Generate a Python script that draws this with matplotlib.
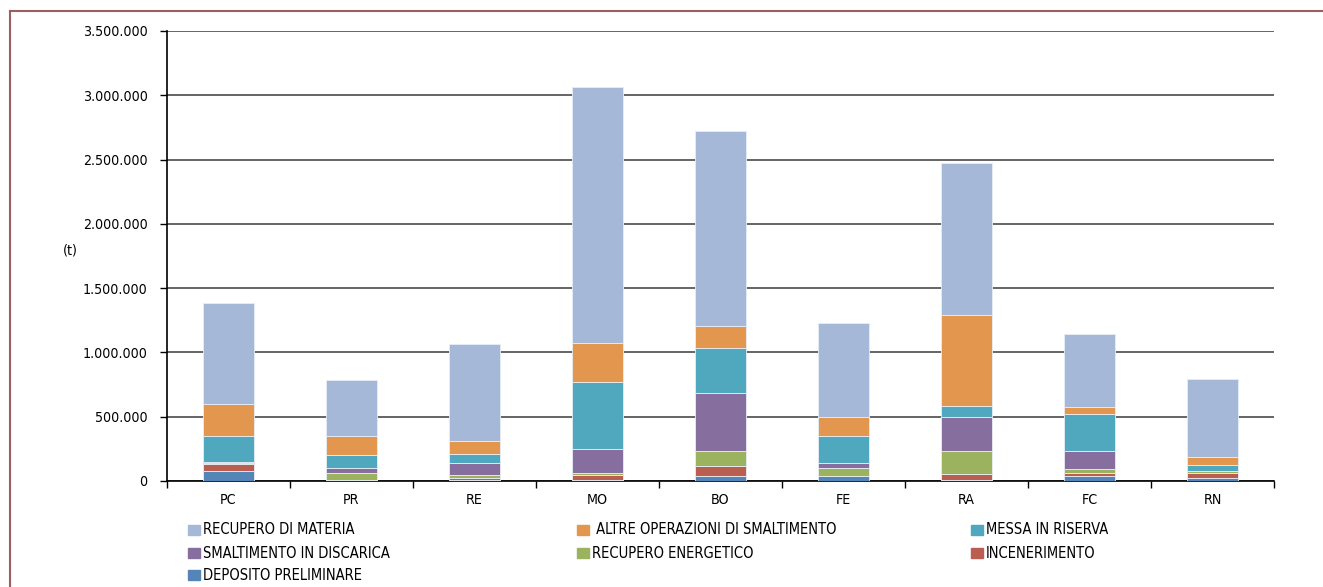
import matplotlib
matplotlib.use("Agg")
import matplotlib.pyplot as plt
from matplotlib.patches import Rectangle
from matplotlib.lines import Line2D
import matplotlib.font_manager as fm
from matplotlib.ticker import FuncFormatter, FixedLocator
import numpy as np

provinces = ["PC", "PR", "RE", "MO", "BO", "FE", "RA", "FC", "RN"]

# stacked from bottom to top
deposito_preliminare = [78000, 5000, 5000, 8000, 39000, 39000, 5000, 41000, 26000]
incenerimento = [52000, 0, 15000, 40000, 75000, 0, 47000, 23000, 39000]
recupero_energetico = [12000, 58000, 29000, 16000, 117000, 65000, 181000, 29000, 10000]
smaltimento_discarica = [3000, 36000, 88000, 187000, 453000, 36000, 264000, 138000, 3000]
messa_in_riserva = [202000, 101000, 75000, 521000, 353000, 213000, 88000, 290000, 44000]
altre_operazioni = [252000, 151000, 101000, 303000, 168000, 143000, 708000, 52000, 62000]
recupero_materia = [788000, 435000, 749000, 1990000, 1520000, 736000, 1180000, 570000, 610000]

series_labels = ["DEPOSITO PRELIMINARE", "INCENERIMENTO", "RECUPERO ENERGETICO",
                 "SMALTIMENTO IN DISCARICA", "MESSA IN RISERVA",
                 " ALTRE OPERAZIONI DI SMALTIMENTO", "RECUPERO DI MATERIA"]
series_values = [deposito_preliminare, incenerimento, recupero_energetico,
                 smaltimento_discarica, messa_in_riserva, altre_operazioni,
                 recupero_materia]
series_colors = ["#5585B7", "#BB5E52", "#9BB25E", "#866E9E", "#4FA8BD",
                 "#E3974E", "#A5B8D7"]

ytick_values = [0, 500000, 1000000, 1500000, 2000000, 2500000, 3000000, 3500000]

cond = [f for f in fm.fontManager.ttflist if f.name == "DejaVu Sans" and f.stretch == "condensed"]
plt.rcParams["font.family"] = ["DejaVu Sans"]
if cond:
    plt.rcParams["font.stretch"] = "condensed"
    FS_T, FS_L = 10.2, 10.5
else:
    FS_T, FS_L = 9, 9.5

W, H = 1323, 587
fig = plt.figure(figsize=(W / 100, H / 100), dpi=100)
fig.patch.set_facecolor("white")

# frame (left and top visible)
frame_col = "#9E5C63"
fig.add_artist(Line2D([10 / W, 10 / W], [0, 1 - 11 / H], color=frame_col, lw=1.5))
fig.add_artist(Line2D([10 / W, 1], [1 - 11 / H, 1 - 11 / H], color=frame_col, lw=1.5))

left, right, top, bottom = 167, 1274, 31, 481
ax = fig.add_axes([left / W, 1 - bottom / H, (right - left) / W, (bottom - top) / H])

x = np.arange(len(provinces))
base = np.zeros(len(provinces))
for vals, lab, col in zip(series_values, series_labels, series_colors):
    v = np.array(vals, dtype=float)
    ax.bar(x, v, bottom=base, width=0.41, color=col, edgecolor="#E8EEF6",
           linewidth=0.6, label=lab, zorder=3)
    base += v

ax.set_xlim(-0.5, len(provinces) - 0.5)
ax.set_ylim(0, 3500000)
ax.yaxis.set_major_locator(FixedLocator(ytick_values))
ax.yaxis.set_major_formatter(FuncFormatter(lambda v, p: f"{int(v):,}".replace(",", ".")))
ax.grid(axis="y", color="#3A3A3A", lw=1.1, zorder=1)
ax.set_axisbelow(True)

ax.set_xticks(np.arange(-0.5, len(provinces)), minor=False)
ax.set_xticklabels([])
ax.set_xticks(x, minor=True)
ax.set_xticklabels(provinces, minor=True)
ax.tick_params(axis="x", which="minor", length=0, pad=9, labelsize=FS_T)
ax.tick_params(axis="x", which="major", direction="out", length=5, width=1)
ax.tick_params(axis="y", direction="out", length=5, width=1, pad=9, labelsize=FS_T)

for s in ["top", "right"]:
    ax.spines[s].set_visible(False)
ax.spines["left"].set_color("black")
ax.spines["bottom"].set_color("black")
ax.spines["left"].set_linewidth(1.2)
ax.spines["bottom"].set_linewidth(1.2)

ax.set_ylabel("(t)", rotation=0, fontsize=FS_T)
ax.yaxis.set_label_coords((70 - left) / (right - left), (bottom - 258) / (bottom - top))

# legend laid out in rows like the reference
legend_order = [6, 5, 4, 3, 2, 1, 0]
col_x = [188, 577, 971]
row_y = [530, 553, 575]
for i, si in enumerate(legend_order):
    r, c = divmod(i, 3)
    xs, ys = col_x[c], row_y[r]
    fig.add_artist(Rectangle((xs / W, 1 - (ys + 5) / H), 12 / W, 10 / H,
                             transform=fig.transFigure, color=series_colors[si]))
    fig.text((xs + 15) / W, 1 - ys / H, series_labels[si],
             ha="left", va="center", fontsize=FS_L)

fig.savefig("out.png", dpi=100, facecolor="white")
